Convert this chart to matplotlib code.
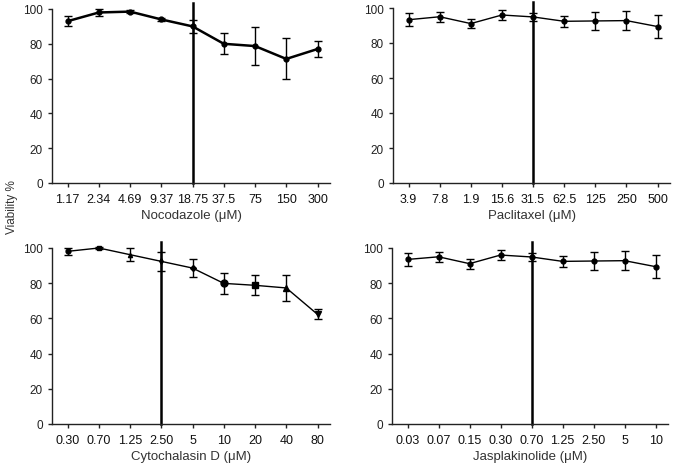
import matplotlib.pyplot as plt

plt.rcParams['font.family'] = ['Liberation Sans', 'DejaVu Sans']
plt.rcParams['font.size'] = 8

# Nocodazole
noco_labels = ['1.17', '2.34', '4.69', '9.37', '18.75', '37.5', '75', '150', '300']
noco_mean = [93, 98, 98.5, 94, 90, 80, 78.7, 71.3, 77]
noco_err = [2.7, 2.2, 1.0, 1.0, 3.8, 6.0, 10.8, 11.8, 4.6]
noco_ref = 4

# Paclitaxel
pacl_labels = ['3.9', '7.8', '1.9', '15.6', '31.5', '62.5', '125', '250', '500']
pacl_mean = [93.3, 95, 91.1, 96, 94.9, 92.4, 92.6, 92.8, 89.4]
pacl_err = [3.8, 2.8, 2.8, 2.7, 2.3, 3.2, 5.0, 5.4, 6.5]
pacl_ref = 4

# Cytochalasin D
cyto_labels = ['0.30', '0.70', '1.25', '2.50', '5', '10', '20', '40', '80']
cyto_mean = [98.1, 100, 96.2, 92.4, 88.6, 79.9, 78.8, 77.3, 62.3]
cyto_err = [1.8, 0.4, 3.7, 5.2, 5.3, 6.0, 5.6, 7.5, 2.8]
cyto_markers = ['o', 's', '^', 'd', 'D', 'o', 's', '^', 'v']
cyto_ref = 3

# Jasplakinolide
jasp_labels = ['0.03', '0.07', '0.15', '0.30', '0.70', '1.25', '2.50', '5', '10']
jasp_mean = [93.5, 95, 91.1, 96, 94.9, 92.4, 92.6, 92.8, 89.4]
jasp_err = [3.8, 2.8, 2.8, 2.7, 2.3, 3.2, 5.0, 5.4, 6.5]
jasp_ref = 4

W, H = 675, 464
fig = plt.figure(figsize=(W / 100, H / 100), dpi=100)

def px_axes(x0, x1, ytop, ybot):
    return fig.add_axes([x0 / W, 1 - ybot / H, (x1 - x0) / W, (ybot - ytop) / H])

def style(ax, labels, xlabel, ref):
    ax.set_xlim(-0.5, 8.4)
    ax.set_ylim(0, 100)
    ax.set_yticks([0, 20, 40, 60, 80, 100])
    ax.set_xticks(range(len(labels)))
    ax.set_xticklabels(labels)
    ax.spines['top'].set_visible(False)
    ax.spines['right'].set_visible(False)
    for s in ['left', 'bottom']:
        ax.spines[s].set_linewidth(1.0)
        ax.spines[s].set_color('#222222')
    ax.tick_params(axis='both', direction='out', length=3, width=1.0,
                   colors='#222222', labelsize=8.5)
    ax.tick_params(axis='x', pad=4, labelsize=9, labelcolor='#111111')
    ax.set_xlabel(xlabel, fontsize=9.5, color='#333333', labelpad=3)
    ax.axvline(ref, ymin=0, ymax=1.035, color='black', lw=1.8,
               clip_on=False, zorder=1)

def draw(ax, mean, err, lw=1.0, markers=None, ms=3.5):
    x = list(range(len(mean)))
    ax.errorbar(x, mean, yerr=err, color='black', lw=lw, elinewidth=1.0,
                capsize=3, capthick=1.0, marker=None, clip_on=False, zorder=3)
    if markers is None:
        ax.plot(x, mean, 'o', color='black', ms=ms, clip_on=False, zorder=4)
    else:
        for xi, yi, m in zip(x, mean, markers):
            size = ms + 1.5 if xi >= 5 else (ms - 0.5 if xi in (2, 3, 4) else ms)
            ax.plot(xi, yi, marker=m, color='black', ms=size,
                    clip_on=False, zorder=4)

ax1 = px_axes(52, 330, 10, 184)
draw(ax1, noco_mean, noco_err, lw=1.8)
style(ax1, noco_labels, 'Nocodazole (μM)', noco_ref)

ax2 = px_axes(393, 670, 9, 184)
draw(ax2, pacl_mean, pacl_err, lw=1.0)
style(ax2, pacl_labels, 'Paclitaxel (μM)', pacl_ref)

ax3 = px_axes(52, 330, 249, 425)
draw(ax3, cyto_mean, cyto_err, lw=1.0, markers=cyto_markers, ms=3.5)
style(ax3, cyto_labels, 'Cytochalasin D (μM)', cyto_ref)

ax4 = px_axes(392, 668, 249, 425)
draw(ax4, jasp_mean, jasp_err, lw=1.0)
style(ax4, jasp_labels, 'Jasplakinolide (μM)', jasp_ref)

fig.text(12 / W, 1 - 207 / H, 'Viability %', rotation=90, ha='center',
         va='center', fontsize=8.5, color='#333333')

fig.savefig('out.png', dpi=100)
